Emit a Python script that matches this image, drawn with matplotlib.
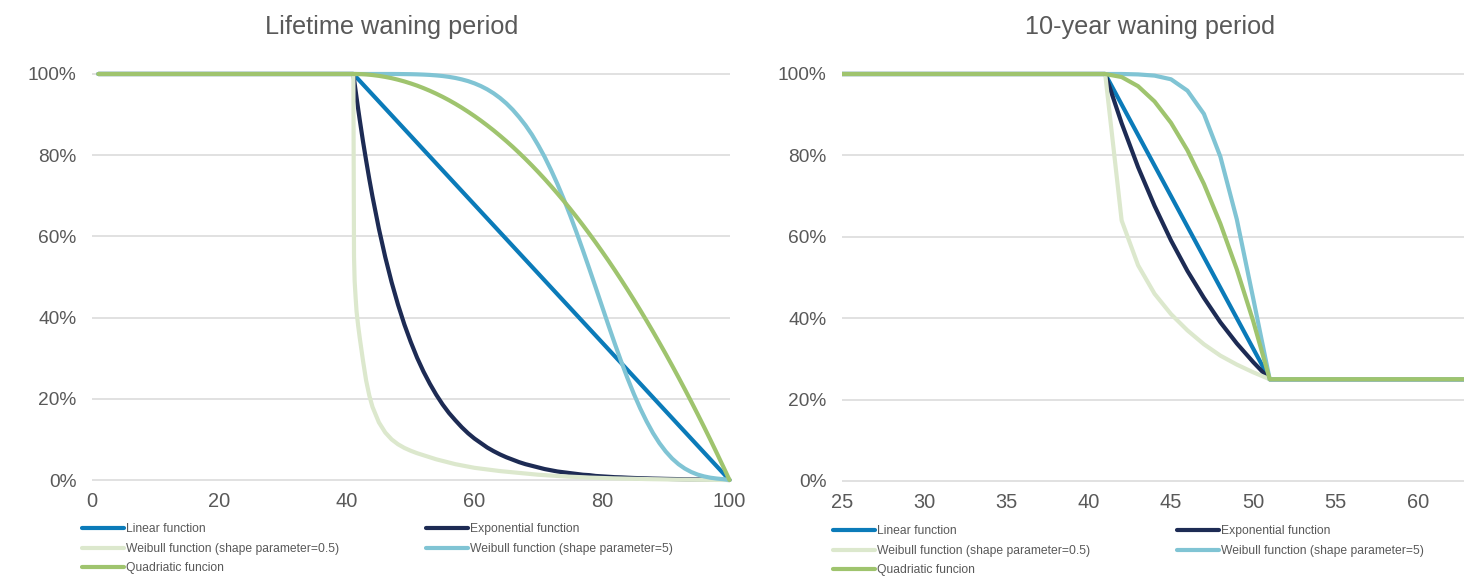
"""
Waning curves: lifetime vs 10-year waning period
"""

import matplotlib
matplotlib.use('Agg')
import matplotlib.pyplot as plt
from matplotlib.ticker import PercentFormatter

matplotlib.rcParams['font.family'] = ['Liberation Sans', 'DejaVu Sans']

# Lifetime waning (age, % protection remaining); waning starts at 41
lt_years = [1, 41, 41.1, 41.2, 41.35, 41.5, 41.75, 42, 42.5, 43, 43.5, 44] + list(range(45, 101))
lt_linear_years = [1, 41, 100]
lt_linear = [100, 100, 0]
lt_expon = [100,
            100, 98.8, 97.6, 95.9, 94.2, 91.4, 88.7, 83.5, 78.7, 74.1, 69.8,
            61.9, 54.9, 48.7, 43.2, 38.3, 34.0, 30.1, 26.7, 23.7, 21.0, 18.6, 16.5, 14.7, 13.0,
            11.5, 10.2, 9.1, 8.0, 7.1, 6.3, 5.6, 5.0, 4.4, 3.9, 3.5, 3.1, 2.7, 2.4, 2.1, 1.9,
            1.7, 1.5, 1.3, 1.2, 1.0, 0.9, 0.8, 0.7, 0.65, 0.57, 0.5, 0.45, 0.4, 0.35, 0.32,
            0.28, 0.25, 0.22, 0.19, 0.17, 0.15, 0.13, 0.12, 0.1, 0.05, 0]
lt_weib05 = [100,
             100, 55, 49, 45, 41.5, 38, 35, 29.5, 24.5, 20.8, 18.0,
             14.2, 11.7, 10.0, 8.8, 7.9, 7.2, 6.6, 6.1, 5.6, 5.1, 4.7, 4.3, 3.9, 3.6,
             3.3, 3.0, 2.8, 2.6, 2.4, 2.2, 2.05, 1.9, 1.75, 1.6, 1.45, 1.3, 1.2, 1.1, 1.0, 0.9,
             0.82, 0.75, 0.68, 0.6, 0.55, 0.5, 0.45, 0.4, 0.37, 0.33, 0.3, 0.27, 0.23, 0.2, 0.18,
             0.15, 0.12, 0.1, 0.09, 0.07, 0.05, 0.04, 0.03, 0.02, 0.01, 0]
lt_weib5 = [100,
            100, 100, 100, 100, 100, 100, 100, 100, 100, 100, 100,
            100, 100, 100, 99.99, 99.97, 99.95, 99.91, 99.85, 99.77, 99.65, 99.50, 99.29, 99.02, 98.67,
            98.24, 97.69, 97.02, 96.21, 95.24, 94.09, 92.75, 91.18, 89.37, 87.37, 85.08, 82.44, 79.58,
            76.37, 72.92, 69.18, 65.20, 60.99, 56.60, 52.08, 47.47, 42.80, 38.16, 33.62, 29.23, 25.07,
            21.19, 17.62, 14.42, 11.56, 9.10, 7.02, 5.29, 3.90, 2.81, 1.97, 1.34, 0.89, 0.57, 0.36,
            0.21, 0]
lt_quad = [100,
           100, 100, 100, 100, 99.99, 99.98, 99.97, 99.94, 99.89, 99.82, 99.74,
           99.54, 99.28, 98.97, 98.59, 98.16, 97.67, 97.13, 96.52, 95.86, 95.14, 94.37, 93.54, 92.65,
           91.70, 90.69, 89.63, 88.51, 87.33, 86.10, 84.80, 83.45, 82.05, 80.58, 79.06, 77.48, 75.84,
           74.15, 72.39, 70.58, 68.72, 66.79, 64.81, 62.77, 60.67, 58.52, 56.30, 54.04, 51.71, 49.32,
           46.88, 44.38, 41.83, 39.21, 36.54, 33.81, 31.03, 28.18, 25.28, 22.32, 19.30, 16.23, 13.10,
           9.91, 6.66, 3.36, 0]

# 10-year waning down to a 25% floor
tw_years = [1, 41, 42, 43, 44, 45, 46, 47, 48, 49, 50, 51, 65]
tw_linear = [100, 100, 92.5, 85, 77.5, 70, 62.5, 55, 47.5, 40, 32.5, 25, 25]
tw_expon = [100, 100, 87.9, 77.1, 67.6, 59.1, 51.6, 45.0, 39.0, 33.8, 29.2, 25, 25]
tw_weib05 = [100, 100, 64, 53, 46, 41, 37, 33.6, 30.8, 28.6, 26.7, 25, 25]
tw_weib5 = [100, 100, 100, 99.9, 99.6, 98.7, 95.9, 90.2, 79.7, 64.3, 44.8, 25, 25]
tw_quad = [100, 100, 99.25, 97, 93.25, 88, 81.25, 73, 63.25, 52, 39.25, 25, 25]

labels = ['Linear function', 'Exponential function',
          'Weibull function (shape parameter=0.5)',
          'Weibull function (shape parameter=5)', 'Quadriatic funcion']
colors = ['#0B7BB9', '#1D2B54', '#DCE8CD', '#80C4D4', '#9FC46E']
text_gray = '#595959'

fig = plt.figure(figsize=(14.64, 5.76), dpi=100)

ax1 = fig.add_axes([92 / 1464, 0.1596, 637.5 / 1464, 0.719])
ax2 = fig.add_axes([842 / 1464, 0.1579, 658 / 1464, 0.7207])


def style_axis(ax, xlim, xticks):
    ax.set_xlim(*xlim)
    ax.set_ylim(-1, 101)
    ax.set_xticks(xticks)
    ax.set_yticks([0, 20, 40, 60, 80, 100])
    ax.yaxis.set_major_formatter(PercentFormatter(100, decimals=0))
    ax.yaxis.grid(True, color='#D9D9D9', linewidth=1.1)
    ax.set_axisbelow(True)
    for side in ax.spines.values():
        side.set_visible(False)
    ax.tick_params(axis='both', length=0, labelcolor=text_gray)
    ax.tick_params(axis='x', pad=6, labelsize=14.4)
    ax.tick_params(axis='y', pad=11, labelsize=13.8)


def draw_series(ax, xs, series, clip):
    handles = []
    for x, vals, col, lab in zip(xs, series, colors, labels):
        ln, = ax.plot(x, vals, color=col, linewidth=3, label=lab,
                      solid_capstyle='round', solid_joinstyle='round', clip_on=clip)
        handles.append(ln)
    return handles


h1 = draw_series(ax1, [lt_linear_years, lt_years, lt_years, lt_years, lt_years],
                 [lt_linear, lt_expon, lt_weib05, lt_weib5, lt_quad], False)
style_axis(ax1, (0, 100), [0, 20, 40, 60, 80, 100])

h2 = draw_series(ax2, [tw_years] * 5,
                 [tw_linear, tw_expon, tw_weib05, tw_weib5, tw_quad], True)
style_axis(ax2, (25, 65), [25, 30, 35, 40, 45, 50, 55, 60])

fig.text(391.5 / 1464, 1 - 27 / 576, 'Lifetime waning period', ha='center', va='center',
         fontsize=18.2, color=text_gray)
fig.text(1150 / 1464, 1 - 27 / 576, '10-year waning period', ha='center', va='center',
         fontsize=18.2, color=text_gray)

# legends: two columns under each chart, filled row by row
leg_kw = dict(frameon=False, fontsize=8.7, labelcolor=text_gray, handlelength=3.5,
              handletextpad=0.15, labelspacing=0.64, borderpad=0, borderaxespad=0,
              loc='upper left')
for handles, xs, ytop in [(h1, (82, 426), 523), (h2, (833, 1177), 525)]:
    fig.legend([handles[0], handles[2], handles[4]],
               [labels[0], labels[2], labels[4]],
               bbox_to_anchor=(xs[0] / 1464, 1 - ytop / 576), **leg_kw)
    fig.legend([handles[1], handles[3]], [labels[1], labels[3]],
               bbox_to_anchor=(xs[1] / 1464, 1 - ytop / 576), **leg_kw)

plt.savefig('out.png', dpi=100, facecolor='white')
plt.close()
